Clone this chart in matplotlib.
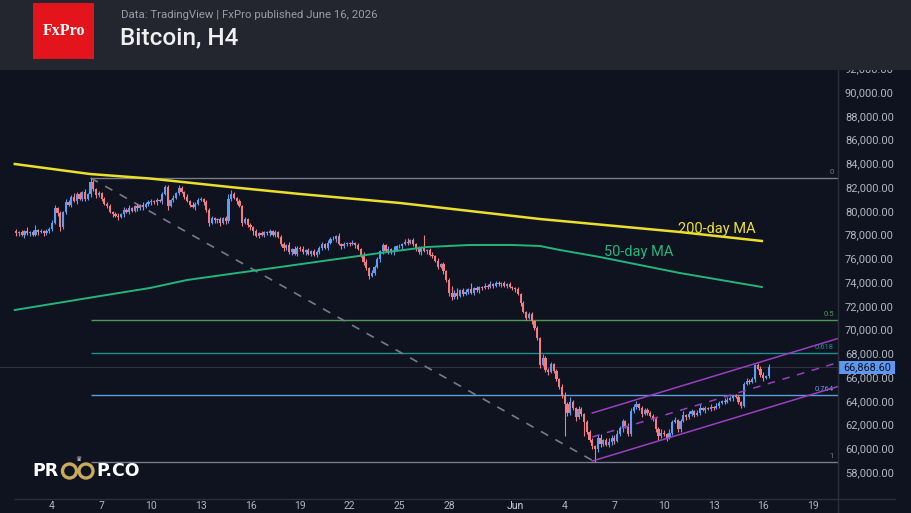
import matplotlib
matplotlib.use("Agg")
import matplotlib.pyplot as plt
import matplotlib.dates as mdates
from matplotlib.patches import Rectangle, Circle
import numpy as np
import pandas as pd

plt.rcParams['font.family'] = ['Roboto', 'DejaVu Sans']

# ---------------- data ----------------
start_time = "2026-05-01 20:00"   # first 4h candle
first_open = 78300
closes_k = [
    78.1,                                   # May 1
    78.2, 78.0, 78.3, 78.1, 78.2, 78.0,     # May 2
    78.4, 78.2, 78.3, 78.1, 78.3, 78.5,     # May 3
    79.0, 80.2, 79.8, 78.6, 79.9, 80.7,     # May 4
    80.5, 81.2, 80.8, 81.4, 81.0, 81.6,     # May 5
    81.0, 81.4, 82.4, 81.8, 81.3, 81.5,     # May 6
    81.0, 80.6, 80.4, 79.9, 79.7, 79.6,     # May 7
    79.5, 79.7, 80.1, 79.9, 80.2, 80.0,     # May 8
    80.4, 80.2, 80.5, 80.3, 80.6, 80.7,     # May 9
    80.8, 80.7, 80.9, 80.8, 81.4, 82.0,     # May 10
    80.4, 80.9, 81.1, 81.5, 81.9, 81.6,     # May 11
    81.2, 80.8, 80.5, 80.3, 80.6, 80.9,     # May 12
    81.0, 80.7, 80.1, 79.0, 79.4, 79.2,     # May 13
    79.3, 79.0, 79.4, 79.1, 81.0, 81.4,     # May 14
    81.1, 80.8, 80.4, 79.0, 79.3, 78.8,     # May 15
    78.6, 78.3, 77.9, 78.1, 78.0, 78.2,     # May 16
    78.1, 78.3, 78.0, 78.2, 77.8, 77.2,     # May 17
    76.9, 77.1, 76.5, 76.8, 76.4, 76.9,     # May 18
    76.8, 76.5, 76.7, 76.4, 76.6, 76.3,     # May 19
    76.5, 76.9, 77.2, 76.9, 77.3, 77.6,     # May 20
    77.6, 77.9, 77.2, 77.0, 77.2, 77.3,     # May 21
    77.2, 77.3, 77.1, 76.8, 76.3, 75.7,     # May 22
    75.2, 74.5, 74.8, 75.3, 75.9, 76.6,     # May 23
    77.1, 76.6, 76.8, 76.5, 76.7, 77.0,     # May 24
    77.0, 77.2, 77.4, 77.3, 77.5, 77.2,     # May 25
    76.8, 76.5, 76.9, 76.6, 76.7, 76.3,     # May 26
    76.2, 75.8, 75.3, 75.5, 74.9, 74.2,     # May 27
    73.1, 72.7, 73.1, 72.8, 73.3, 73.0,     # May 28
    73.2, 73.4, 73.1, 73.5, 73.3, 73.6,     # May 29
    73.5, 73.7, 73.6, 73.8, 73.7, 73.9,     # May 30
    73.8, 73.9, 73.7, 73.8, 73.6, 73.5,     # May 31
    73.4, 73.0, 72.2, 71.5, 71.0, 71.3,     # Jun 1
    70.7, 70.1, 69.3, 67.0, 67.6, 66.6,     # Jun 2
    66.4, 67.1, 66.5, 65.8, 65.2, 64.4,     # Jun 3
    63.7, 63.0, 63.9, 63.4, 62.6, 63.3,     # Jun 4
    62.9, 62.2, 61.4, 60.7, 60.2, 59.9,     # Jun 5
    60.9, 60.4, 60.7, 60.3, 60.5, 60.9,     # Jun 6
    60.6, 61.2, 61.7, 62.3, 61.9, 61.2,     # Jun 7
    63.1, 63.5, 63.7, 63.4, 62.9, 63.2,     # Jun 8
    63.0, 62.7, 62.5, 61.6, 61.0, 61.3,     # Jun 9
    61.2, 60.9, 61.3, 62.2, 62.4, 61.6,     # Jun 10
    62.3, 62.8, 62.6, 62.9, 63.1, 62.8,     # Jun 11
    63.0, 63.4, 63.2, 63.4, 63.3, 63.5,     # Jun 12
    63.4, 63.6, 63.8, 64.0, 63.9, 64.1,     # Jun 13
    64.2, 64.4, 64.3, 63.9, 63.6, 65.4,     # Jun 14
    65.7, 65.6, 65.8, 67.0, 66.7, 66.2,     # Jun 15
    65.9, 66.1, 66.8686,                    # Jun 16
]
# wick lengths above / below the body, in $100
up_wick = [
    2,
    1, 2, 1, 3, 1, 2,   4, 1, 2, 1, 2, 1,   2, 3, 1, 2, 1, 3,   2, 1, 3, 2, 2, 1,
    2, 1, 3.6, 2, 1, 2, 1, 2, 1, 2, 1, 2,   2, 1, 2, 1, 3, 1,   1, 2, 1, 2, 1, 2,
    2, 1, 2, 1, 2, 2,   2, 1, 2, 1, 3, 2,   1, 2, 1, 2, 1, 2,   2, 1, 2, 1, 2, 1,
    1, 2, 1, 2, 4, 3.5, 2, 1, 2, 1, 2, 1,   2, 1, 2, 1, 2, 1,   1, 2, 1, 2, 1, 2,
    2, 1, 3, 1, 2, 1,   1, 2, 1, 2, 1, 2,   2, 1, 2, 1, 2, 2,   3, 1, 2, 1, 2, 1,
    1, 2, 1, 2, 1, 2,   2, 1, 2, 1, 2, 1,   2, 1, 2, 1, 3, 1,   2, 1, 2, 3, 1, 2,
    1, 2, 1, 11, 1, 2,  2, 1, 2, 1, 2, 1,   1, 6, 2, 4, 1, 2,   2, 1, 5, 1, 2, 1,
    1, 2, 1, 3, 1, 2,   2, 1, 2, 1, 2, 1,   1, 2, 1, 2, 1, 2,   2, 1, 2, 1, 3, 2,
    2, 2, 1, 2, 1, 2,   3, 2, 4, 2, 1, 3,   2, 1, 2, 1, 2, 1,   2, 3, 1, 2, 4, 2,
    2, 3, 2, 2, 1, 2,   3, 2, 3, 1, 2, 2,   2, 1, 2, 1, 2, 3,   2, 1, 3, 2, 2, 1,
    2, 3, 1, 2, 2, 1,   2, 3, 1, 2, 1, 2,   1, 2, 2, 1, 2, 2,   2, 1, 2, 2, 1, 2,
    2, 1, 2, 1, 2, 2,   2, 1, 2,
]
dn_wick = [
    2,
    2, 1, 3, 1, 2, 1,   1, 2, 1, 2, 1, 2,   2, 1, 2, 3, 1, 2,   1, 2, 1, 2, 1, 2,
    2, 1, 2, 1, 2, 1,   2, 1, 2, 1, 2, 1,   3, 1, 2, 1, 2, 1,   1, 2, 1, 2, 1, 2,
    2, 1, 2, 1, 2, 1,   3, 1, 2, 1, 2, 1,   2, 1, 2, 1, 2, 1,   1, 2, 2, 3, 1, 2,
    2, 3, 1, 2, 1, 2,   1, 2, 1, 3, 1, 2,   2, 3, 1, 2, 1, 2,   1, 2, 1, 2, 1, 2,
    3, 2, 1, 2, 1, 2,   2, 1, 2, 1, 2, 1,   2, 1, 2, 1, 2, 1,   1, 2, 1, 2, 1, 2,
    2, 1, 2, 1, 2, 3,   2, 2.5, 1, 2, 1, 2, 2, 1, 2, 1, 2, 1,   1, 2, 1, 2, 1, 2,
    2, 1, 2, 1, 2, 1,   2, 1, 2, 1, 2, 2,   3, 2, 1, 2, 1, 2,   1, 2, 1, 2, 1, 2,
    2, 1, 2, 1, 2, 1,   1, 2, 1, 2, 1, 2,   2, 1, 2, 1, 2, 1,   2, 1, 2, 2, 1, 2,
    2, 1, 2, 1, 2, 2,   27, 3, 2, 2, 3, 1,  2, 12, 2, 2, 3, 10.5, 2, 3, 2, 1, 2, 2,
    2, 1, 2, 3, 2, 2,   2, 1, 2, 2, 3, 1,   2, 1, 2, 2, 3, 1,   2, 3, 1, 2, 1, 2,
    2, 1, 2, 1, 2, 2,   1, 2, 1, 2, 1, 2,   2, 1, 2, 1, 2, 1,   1, 2, 1, 2, 2, 1,
    1, 2, 1, 2, 1, 2,   2, 1, 2,
]

ma200_times = ["2026-05-01 18:00", "2026-05-06 07:00", "2026-05-09 22:00", "2026-05-14 18:00",
               "2026-05-19 00:00", "2026-05-25 01:00", "2026-06-02 12:00", "2026-06-10 23:00",
               "2026-06-15 22:00"]
ma200_values = [83937, 83095, 82716, 82000, 81411, 80653, 79305, 78211, 77453]

ma50_times = ["2026-05-01 18:00", "2026-05-06 22:00", "2026-05-09 22:00", "2026-05-12 04:00",
              "2026-05-17 19:00", "2026-05-23 20:00", "2026-05-26 16:00", "2026-05-29 06:00",
              "2026-05-31 21:00", "2026-06-02 12:00", "2026-06-03 17:00", "2026-06-06 03:00",
              "2026-06-10 23:00", "2026-06-15 22:00"]
ma50_values = [71642, 72821, 73495, 74169, 75263, 76442, 76947, 77116, 77116, 77032, 76695,
               76105, 74758, 73579]

fib_start = "2026-05-06 08:00"
fib_end_time = "2026-06-05 20:00"
fib_high = 82760
fib_low = 58850
fib_levels = [0, 0.5, 0.618, 0.764, 1]
fib_labels = ["0", "0.5", "0.618", "0.764", "1"]

channel_times = ["2026-06-05 16:00", "2026-06-20 12:00"]
channel_lower = [58925, 65192]
channel_mid = [60947, 67213]
channel_upper = [62969, 69234]

last_price = 66868.60
y_ticks = list(range(58000, 94001, 2000))
x_tick_dates = ["2026-05-04", "2026-05-07", "2026-05-10", "2026-05-13", "2026-05-16",
                "2026-05-19", "2026-05-22", "2026-05-25", "2026-05-28", "2026-06-01",
                "2026-06-04", "2026-06-07", "2026-06-10", "2026-06-13", "2026-06-16",
                "2026-06-19"]
x_tick_labels = ["4", "7", "10", "13", "16", "19", "22", "25", "28", "Jun",
                 "4", "7", "10", "13", "16", "19"]

# ---------------- style ----------------
BG = "#0f1320"
HEADER = "#24262f"
UP = "#5f9cf4"
DOWN = "#f47b7f"
AXTXT = "#b2b5be"
SEP = "#2b2f3a"

fig = plt.figure(figsize=(9.12, 5.13), dpi=100)
fig.patch.set_facecolor(BG)
ax = fig.add_axes([0, 15 / 513, 838 / 912, (498 - 40) / 513])
ax.set_facecolor(BG)

def tnum(s):
    return mdates.date2num(pd.Timestamp(s).to_pydatetime())

n = min(len(closes_k), len(up_wick), len(dn_wick))
c = np.array(closes_k[:n]) * 1000
o = np.r_[first_open, c[:-1]]
uw = np.array(up_wick[:n], dtype=float) * 100
dw = np.array(dn_wick[:n], dtype=float) * 100
hi = np.maximum(o, c) + uw
lo = np.minimum(o, c) - dw
t0 = tnum(start_time)
x = t0 + np.arange(n) * (4 / 24)
cols = np.where(c >= o, UP, DOWN)

# fib lines
fx0 = tnum(fib_start)
xmax = tnum("2026-05-04") + 786 / 16.54
xmin = tnum("2026-05-04") - 52 / 16.54
fib_cols = ["#787b86", "#4e9a55", "#16918c", "#5a9fd6", "#787b86"]
for lev, lab, col in zip(fib_levels, fib_labels, fib_cols):
    p = fib_high - lev * (fib_high - fib_low)
    ax.plot([fx0, xmax], [p, p], color=col, lw=1.0, zorder=1, solid_capstyle='butt')
    ax.text(xmax - 0.25, p + 250, lab, color=col, fontsize=5.5, ha='right', va='bottom', zorder=1)

# last-price line
ax.axhline(last_price, color="#2e3340", lw=0.8, zorder=0.5)

# diagonal dashed
ax.plot([fx0, tnum(fib_end_time)], [fib_high, fib_low], color="#787b86", lw=1.2,
        ls=(0, (5, 5)), zorder=1.5)

# candles
ax.vlines(x, lo, hi, colors=cols, lw=0.8, zorder=2)
body = np.maximum(np.abs(c - o), 40)
ax.bar(x, body, bottom=np.minimum(o, c), width=0.8 * 4 / 24, color=cols, lw=0, zorder=2.1)

# moving averages
ax.plot([tnum(s) for s in ma200_times], ma200_values, color="#ecdf2c", lw=1.8, zorder=3)
ax.plot([tnum(s) for s in ma50_times], ma50_values, color="#23b57a", lw=1.4, zorder=3)

# channel
cx = [tnum(s) for s in channel_times]
ax.plot(cx, channel_lower, color="#9b3fc0", lw=1.1, zorder=3)
ax.plot(cx, channel_upper, color="#9b3fc0", lw=1.1, zorder=3)
ax.plot(cx, channel_mid, color="#9b3fc0", lw=1.1, ls=(0, (5, 5)), zorder=3)

# annotations
ax.text(tnum("2026-06-13 05:00"), 78500, "200-day MA", color="#ecdf2c", fontsize=10.5,
        ha='center', va='center', zorder=4)
ax.text(tnum("2026-06-08 11:00"), 76500, "50-day MA", color="#23b57a", fontsize=10.5,
        ha='center', va='center', zorder=4)

ax.set_xlim(xmin, xmax)
ax.set_ylim(55811, 94379)
for s in ax.spines.values():
    s.set_visible(False)
ax.yaxis.tick_right()
ax.set_yticks(y_ticks)
ax.set_yticklabels([f"{v:,.2f}" for v in y_ticks])
ax.set_xticks([tnum(s) for s in x_tick_dates])
ax.set_xticklabels(x_tick_labels)
ax.tick_params(axis='y', length=0, pad=5, labelsize=8, labelcolor=AXTXT)
ax.tick_params(axis='x', length=0, pad=2, labelsize=7.5, labelcolor=AXTXT)
for lab in ax.get_xticklabels():
    if lab.get_text() == "Jun":
        lab.set_color("#d1d4dc")
ax.grid(False)

# ---------------- overlay (pixel coordinates) ----------------
ov = fig.add_axes([0, 0, 1, 1], zorder=10)
ov.set_xlim(0, 912)
ov.set_ylim(513, 0)
ov.axis('off')
ov.patch.set_alpha(0)

# separators
ov.plot([838, 838], [70, 513], color=SEP, lw=1)
ov.plot([15, 895], [498.5, 498.5], color=SEP, lw=1)

# header
ov.add_patch(Rectangle((0, 0), 912, 70, color=HEADER, lw=0))
ov.add_patch(Rectangle((33, 3), 61, 56, color="#e3141c", lw=0))
ov.text(63.5, 31, "FxPro", color="white", fontsize=11.5, fontweight='bold',
        family=['Liberation Serif', 'DejaVu Serif'], ha='center', va='center')
ov.text(121, 15, "Data: TradingView | FxPro published June 16, 2026", color="#9a9ca5",
        fontsize=8.2, ha='left', va='center')
ov.text(120, 38, "Bitcoin, H4", color="#f0f0f2", fontsize=17.5, fontweight='medium',
        ha='left', va='center')

# price label
ov.add_patch(Rectangle((839, 361), 56, 13, color="#5e97f0", lw=0))
ov.text(867, 367.5, f"{last_price:,.2f}", color="#0f1320", fontsize=7.8,
        ha='center', va='center')

# watermark logo
ov.text(32, 471, "PR", color="white", fontsize=12.5, fontweight='bold',
        family=['DejaVu Sans'], ha='left', va='center')
for cxp in (69.5, 86):
    ov.add_patch(Circle((cxp, 471), 7, fill=False, ec="#c9a95c", lw=2.4))
ov.text(78, 459, "♛", color="#d0d0d0", fontsize=5, ha='center', va='center',
        family=['DejaVu Sans'])
ov.text(96, 471, "P.CO", color="white", fontsize=12.5, fontweight='bold',
        family=['DejaVu Sans'], ha='left', va='center')

fig.savefig("out.png", dpi=100, facecolor=fig.get_facecolor())
